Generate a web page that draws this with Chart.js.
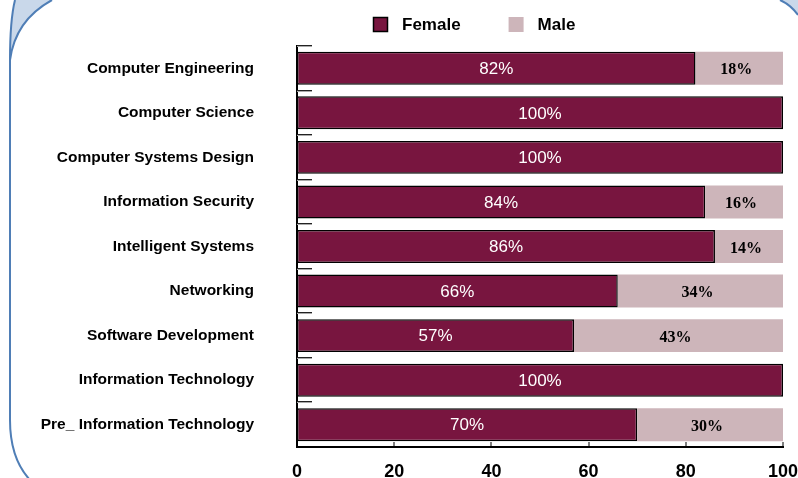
<!DOCTYPE html>
<html>
<head>
<meta charset="utf-8">
<title>Female / Male by program</title>
<script src="https://cdn.jsdelivr.net/npm/chart.js@4.4.0/dist/chart.umd.min.js"></script>
<style>
  html, body { margin: 0; padding: 0; background: #fff; }
  .chart-box { position: relative; width: 798px; height: 478px; }
</style>
</head>
<body>
<div class="chart-box"><canvas id="gender-chart"></canvas></div>
<script>
// Data (percent of students per program)
const programs = [
    "Computer Engineering",
    "Computer Science",
    "Computer Systems Design",
    "Information Security",
    "Intelligent Systems",
    "Networking",
    "Software Development",
    "Information Technology",
    "Pre_ Information Technology"
];
const femalePct = [82, 100, 100, 84, 86, 66, 57, 100, 70];
const malePct = [18, 0, 0, 16, 14, 34, 43, 0, 30];
const xTicks = [0, 20, 40, 60, 80, 100];

const SANS = '"Liberation Sans", Arial, sans-serif';
const SERIF = '"Liberation Serif", "Times New Roman", serif';
const femaleColor = '#78153f';
const maleColor = '#cdb5ba';
const frameBlue = '#4f7eb6';
const frameFill = '#c9d8ea';

// Blue scroll-like frame behind the chart
const framePlugin = {
    id: 'frame',
    beforeDraw(chart) {
        const ctx = chart.ctx;
        ctx.save();
        ctx.fillStyle = '#fff';
        ctx.fillRect(0, 0, chart.width, chart.height);

        // top-left curl
        ctx.beginPath();
        ctx.moveTo(15, 0);
        ctx.quadraticCurveTo(10, 20, 10, 60);
        ctx.bezierCurveTo(14, 30, 30, 12, 52, 0);
        ctx.closePath();
        ctx.fillStyle = frameFill;
        ctx.fill();

        // top-right corner
        ctx.beginPath();
        ctx.moveTo(780, 0);
        ctx.quadraticCurveTo(791, 5, 798, 15);
        ctx.lineTo(798, 0);
        ctx.closePath();
        ctx.fill();

        ctx.strokeStyle = frameBlue;
        ctx.lineWidth = 2;
        ctx.beginPath();
        ctx.moveTo(15, 0);
        ctx.quadraticCurveTo(10, 20, 10, 60);
        ctx.lineTo(10, 420);
        ctx.bezierCurveTo(10, 448, 17, 466, 30, 480);
        ctx.stroke();

        ctx.beginPath();
        ctx.moveTo(52, 0);
        ctx.bezierCurveTo(30, 12, 14, 30, 10, 60);
        ctx.stroke();

        ctx.beginPath();
        ctx.moveTo(780, 0);
        ctx.quadraticCurveTo(791, 5, 798, 15);
        ctx.stroke();
        ctx.restore();
    }
};

// Short tick marks inside the plot + percent labels in the bars
const marksPlugin = {
    id: 'marks',
    afterDatasetsDraw(chart) {
        const ctx = chart.ctx;
        const area = chart.chartArea;
        const xs = chart.scales.x, ys = chart.scales.y;
        ctx.save();

        const half = (ys.getPixelForValue(1) - ys.getPixelForValue(0)) / 2;
        programs.forEach((p, i) => {
            const yTop = Math.round(ys.getPixelForValue(i) - half);
            ctx.fillStyle = '#222';
            ctx.fillRect(area.left, yTop - 1, 15, 1);
            ctx.fillStyle = '#aaa';
            ctx.fillRect(area.left, yTop, 15, 1);
        });

        ctx.fillStyle = '#000';
        xTicks.forEach(v => {
            const x = Math.round(xs.getPixelForValue(v));
            ctx.fillRect(x - 0.5, area.bottom - 5, 1, 5);
        });

        ctx.textAlign = 'center';
        ctx.textBaseline = 'middle';
        chart.data.datasets.forEach((ds, d) => {
            const meta = chart.getDatasetMeta(d);
            meta.data.forEach((bar, i) => {
                const val = ds.data[i];
                if (!val) return;
                const cx = (bar.x + bar.base) / 2;
                if (d === 0) {
                    ctx.fillStyle = '#fff';
                    ctx.font = '17px ' + SANS;
                    ctx.fillText(val + '%', cx, bar.y + 1);
                } else {
                    ctx.fillStyle = '#000';
                    ctx.font = 'bold 16px ' + SERIF;
                    ctx.fillText(val + '%', cx - 3, bar.y + 2);
                }
            });
        });
        ctx.restore();
    }
};

// Legend drawn at the top, left of centre like the original
const legendPlugin = {
    id: 'topLegend',
    afterDraw(chart) {
        const ctx = chart.ctx;
        let x = 373;
        const y = 17;
        ctx.save();
        ctx.font = 'bold 17px ' + SANS;
        ctx.textBaseline = 'middle';
        ctx.textAlign = 'left';
        chart.data.datasets.forEach(ds => {
            ctx.fillStyle = ds.backgroundColor;
            ctx.fillRect(x, y, 15, 15);
            if (ds.borderWidth) {
                ctx.strokeStyle = '#000';
                ctx.lineWidth = 1.5;
                ctx.strokeRect(x + 0.5, y + 0.5, 14, 14);
            }
            ctx.fillStyle = '#000';
            ctx.fillText(ds.label, x + 29, y + 8);
            x += 29 + ctx.measureText(ds.label).width + 48;
        });
        ctx.restore();
    }
};

const ctx = document.getElementById('gender-chart').getContext('2d');
new Chart(ctx, {
    type: 'bar',
    data: {
        labels: programs,
        datasets: [
            {
                label: 'Female',
                data: femalePct,
                backgroundColor: femaleColor,
                borderColor: '#000',
                borderWidth: 1.5,
                borderSkipped: false
            },
            {
                label: 'Male',
                data: malePct,
                backgroundColor: maleColor,
                borderWidth: 0
            }
        ]
    },
    options: {
        indexAxis: 'y',
        responsive: true,
        maintainAspectRatio: false,
        animation: false,
        layout: { padding: { top: 46, right: 15, left: 0, bottom: 0 } },
        datasets: { bar: { categoryPercentage: 1, barPercentage: 0.74 } },
        scales: {
            x: {
                stacked: true,
                min: 0,
                max: 100,
                afterBuildTicks: s => { s.ticks = xTicks.map(v => ({ value: v })); },
                afterFit: s => { s.height = 31; s.paddingLeft = 0; s.paddingRight = 0; },
                grid: { display: false },
                border: { display: true, color: '#000', width: 2 },
                ticks: {
                    color: '#000',
                    padding: 6,
                    maxRotation: 0,
                    font: { family: SANS, size: 18, weight: 'bold' }
                }
            },
            y: {
                stacked: true,
                afterFit: s => { s.width = 297; s.paddingTop = 0; s.paddingBottom = 0; },
                grid: { display: false },
                border: { display: true, color: '#000', width: 2 },
                ticks: {
                    color: '#000',
                    padding: 35,
                    font: { family: SANS, size: 15.5, weight: 'bold' }
                }
            }
        },
        plugins: {
            legend: { display: false },
            tooltip: { enabled: false }
        }
    },
    plugins: [framePlugin, marksPlugin, legendPlugin]
});
</script>
</body>
</html>
